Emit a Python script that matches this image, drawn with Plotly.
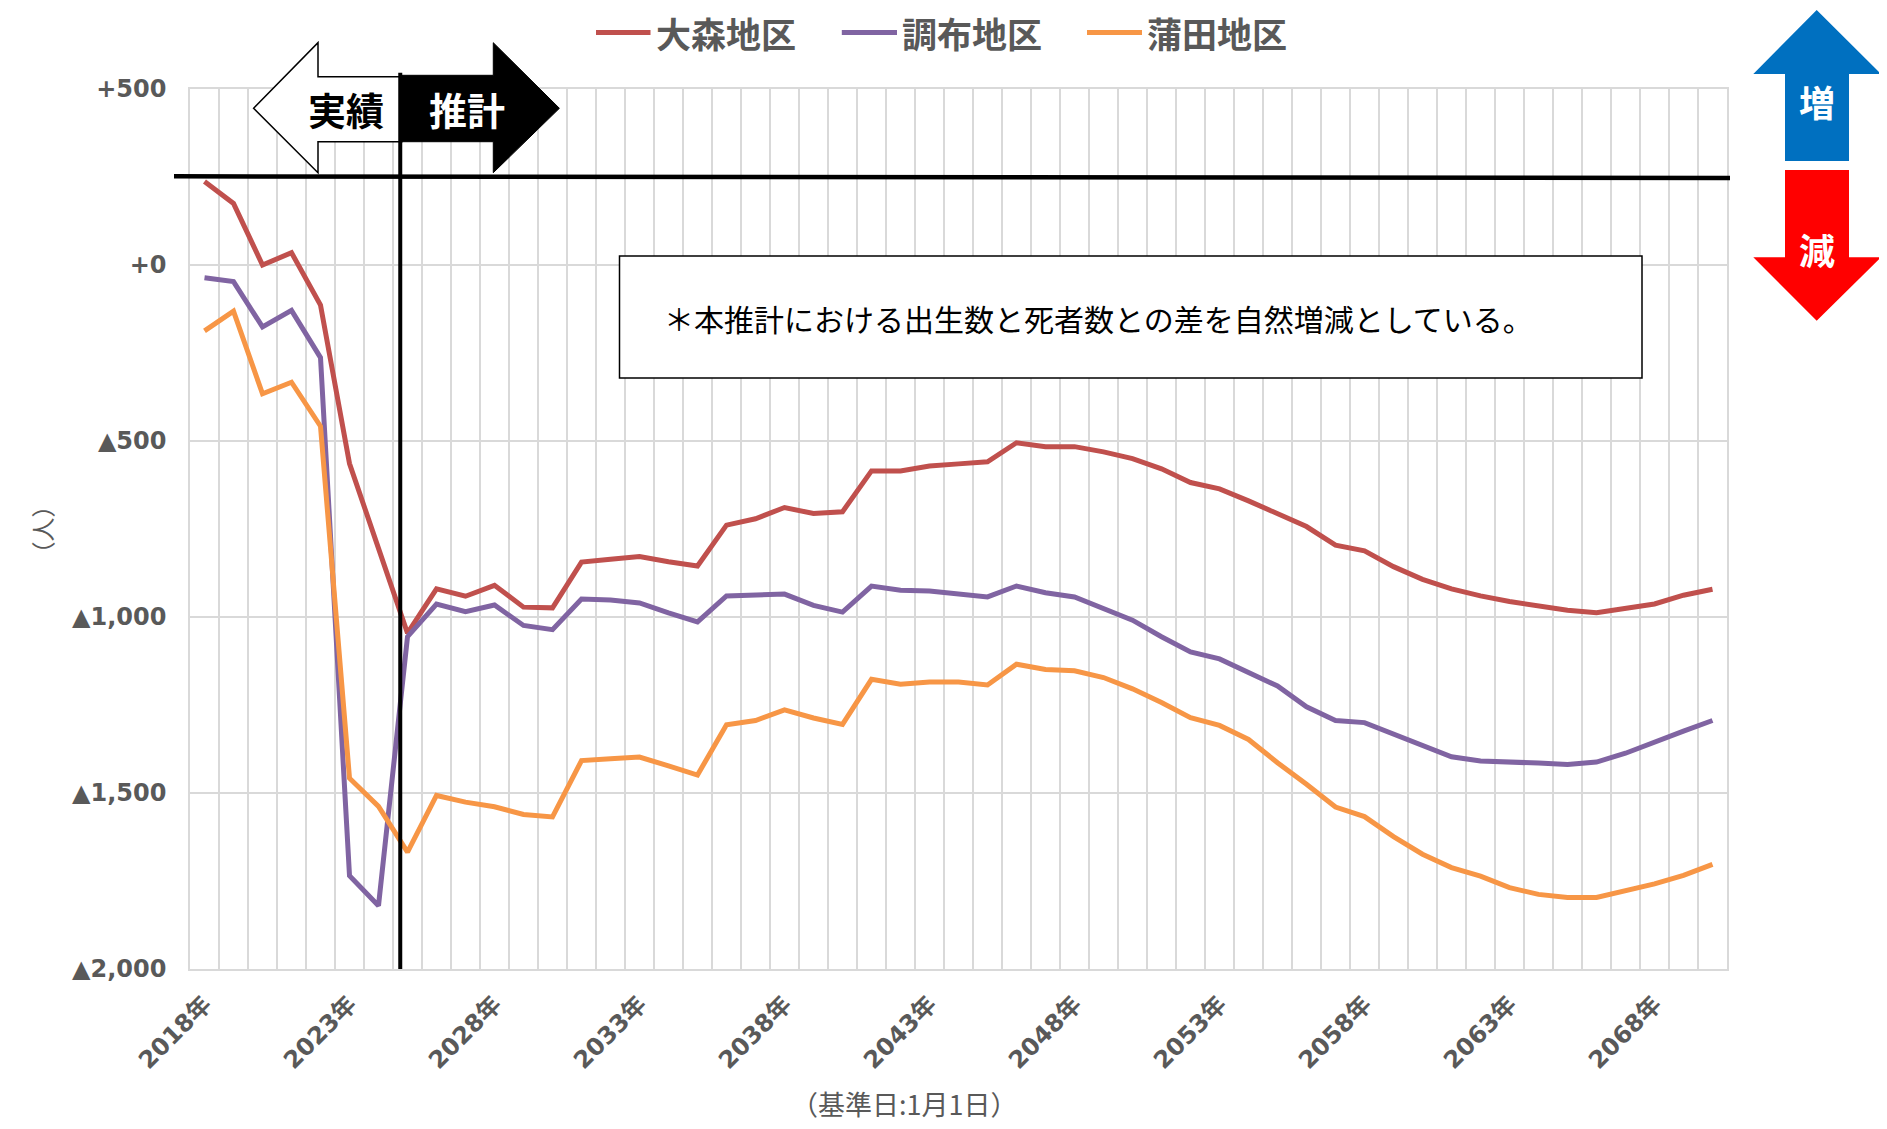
import plotly.graph_objects as go

# natural increase/decrease by district, 2018-2070 (persons)
years = list(range(2018, 2071))

omori = [237, 175, 0, 35, -114, -564, -805, -1046, -920, -941,
         -910, -972, -974, -844, -836, -828, -843, -855, -739, -721,
         -689, -706, -701, -585, -585, -571, -565, -559, -505, -516,
         -516, -531, -550, -579, -618, -636, -670, -705, -743, -796,
         -812, -857, -893, -920, -940, -956, -969, -981, -988, -976,
         -963, -938, -921]

chofu = [-36, -47, -176, -129, -263, -1735, -1820, -1056, -963, -985,
         -966, -1024, -1036, -949, -952, -960, -988, -1014, -940, -936,
         -935, -967, -986, -912, -924, -926, -933, -943, -912, -931,
         -943, -975, -1009, -1056, -1099, -1119, -1156, -1196, -1255, -1294,
         -1300, -1333, -1367, -1397, -1409, -1411, -1415, -1419, -1412, -1387,
         -1354, -1324, -1294]

kamata = [-187, -131, -366, -333, -458, -1458, -1538, -1668, -1507, -1526,
          -1539, -1561, -1568, -1408, -1403, -1398, -1423, -1449, -1306, -1294,
          -1264, -1287, -1305, -1177, -1191, -1185, -1185, -1193, -1134, -1149,
          -1153, -1172, -1204, -1243, -1286, -1308, -1348, -1414, -1475, -1540,
          -1567, -1624, -1674, -1712, -1736, -1769, -1788, -1797, -1797, -1777,
          -1758, -1734, -1703]

series_names = ["大森地区", "調布地区", "蒲田地区"]
series_colors = ["#C0504D", "#8064A2", "#F79646"]

x_tickvals = [2018, 2023, 2028, 2033, 2038, 2043, 2048, 2053, 2058, 2063, 2068]
x_ticktext = ["2018年", "2023年", "2028年", "2033年", "2038年", "2043年",
              "2048年", "2053年", "2058年", "2063年", "2068年"]
y_tickvals = [500, 0, -500, -1000, -1500, -2000]
y_ticktext = ["+500", "+0", "▲500", "▲1,000", "▲1,500", "▲2,000"]

boundary_year = 2024.75   # 実績 / 推計 divider
note_text = "＊本推計における出生数と死者数との差を自然増減としている。"

# page geometry (pixels); the html body adds an 8px margin
W, H = 1887, 1129
OFF = 8
L, T = 190, 89            # plot area corner on the page
PW, PH = 1537, 880
BOTTOM = T + PH


def px(x):
    return (x - L) / PW


def py(y):
    return (BOTTOM - y) / PH


def path(points):
    return "M " + " L ".join(f"{px(a):.5f},{py(b):.5f}" for a, b in points) + " Z"


GRID = "#D9D9D9"
TXT = "#595959"
CJK = "Noto Sans CJK JP"
NUM = "DejaVu Sans, Noto Sans CJK JP"

fig = go.Figure()
for name, vals, col in zip(series_names, [omori, chofu, kamata], series_colors):
    fig.add_trace(go.Scatter(x=years, y=vals, name=name, mode="lines",
                             line=dict(color=col, width=5), showlegend=False))

shapes = []
# white arrow 実績
shapes.append(dict(type="path", xref="paper", yref="paper",
                   path=path([(253.6, 108.3), (318, 42.7), (318, 76.7), (401.8, 76.7),
                              (401.8, 141.7), (318, 141.7), (318, 172.7)]),
                   fillcolor="white", line=dict(color="black", width=1.5)))
# black arrow 推計
shapes.append(dict(type="path", xref="paper", yref="paper",
                   path=path([(401.8, 75.3), (493.3, 75.3), (493.3, 42.7), (559.4, 108.3),
                              (493.3, 172.7), (493.3, 141.7), (401.8, 141.7)]),
                   fillcolor="black", line=dict(color="black", width=1)))
# thick horizontal line and divider
shapes.append(dict(type="line", xref="paper", yref="y", x0=px(174), x1=px(1730),
                   y0=252, y1=247, line=dict(color="black", width=4.5)))
shapes.append(dict(type="line", xref="x", yref="paper", x0=boundary_year, x1=boundary_year,
                   y0=0, y1=py(72.7), line=dict(color="black", width=4)))
# note box
shapes.append(dict(type="rect", xref="paper", yref="paper", x0=px(619.5), x1=px(1642),
                   y0=py(378), y1=py(256), fillcolor="white",
                   line=dict(color="black", width=1.5)))
# 増 / 減 arrows
shapes.append(dict(type="path", xref="paper", yref="paper",
                   path=path([(1816.7, 10), (1881, 74), (1849, 74), (1849, 161),
                              (1785, 161), (1785, 74), (1753.3, 74)]),
                   fillcolor="#0070C0", line=dict(width=0)))
shapes.append(dict(type="path", xref="paper", yref="paper",
                   path=path([(1785, 170), (1849, 170), (1849, 257.3), (1881, 257.3),
                              (1816.7, 320.7), (1753.3, 257.3), (1785, 257.3)]),
                   fillcolor="#FF0000", line=dict(width=0)))

annotations = []
# legend drawn by hand
legend_x = [(596, 650.5), (841.8, 897), (1087, 1142)]
for (a, b), name, col in zip(legend_x, series_names, series_colors):
    shapes.append(dict(type="line", xref="paper", yref="paper", x0=px(a), x1=px(b),
                       y0=py(32.5), y1=py(32.5), line=dict(color=col, width=5)))
    annotations.append(dict(text=name, xref="paper", yref="paper", x=px(b + 3), y=py(33),
                            xanchor="left", yanchor="middle", showarrow=False,
                            font=dict(family=CJK, size=35, color=TXT, weight=700)))

annotations += [
    dict(text="実績", x=px(345.5), y=py(109), font=dict(family=CJK, size=38, color="black", weight=700)),
    dict(text="推計", x=px(466.5), y=py(109), font=dict(family=CJK, size=38, color="white", weight=700)),
    dict(text="増", x=px(1817), y=py(101), font=dict(family=CJK, size=36, color="white", weight=700)),
    dict(text="減", x=px(1817), y=py(249), font=dict(family=CJK, size=36, color="white", weight=700)),
    dict(text=note_text, x=px(662), y=py(318), xanchor="left",
         font=dict(family=CJK, size=30, color="black")),
    dict(text="（人）", x=px(40.5), y=py(530), textangle=-90,
         font=dict(family=CJK, size=24, color=TXT)),
    dict(text="（基準日:1月1日）", x=px(904), y=py(1103),
         font=dict(family=CJK, size=27, color=TXT)),
]
for a in annotations:
    a.setdefault("xref", "paper")
    a.setdefault("yref", "paper")
    a.setdefault("showarrow", False)
    a.setdefault("xanchor", "center")
    a.setdefault("yanchor", "middle")

fig.update_layout(
    width=W, height=H,
    margin=dict(l=L - OFF, r=W - (L - OFF) - PW, t=T - OFF, b=H - (T - OFF) - PH,
                autoexpand=False),
    paper_bgcolor="white", plot_bgcolor="white",
    shapes=shapes, annotations=annotations,
    xaxis=dict(range=[2017.5, 2070.5], tickmode="array", tickvals=x_tickvals,
               ticktext=x_ticktext, tickangle=-45, ticks="", showgrid=False,
               ticklabelstandoff=10,
               minor=dict(tickmode="linear", tick0=2017.5, dtick=1, showgrid=True,
                          gridcolor=GRID, gridwidth=1.5, ticks=""),
               showline=True, linecolor=GRID, linewidth=1.5, mirror=True, zeroline=False,
               tickfont=dict(family=NUM, size=24, color=TXT, weight=700)),
    yaxis=dict(range=[-2000, 500], tickmode="array", tickvals=y_tickvals,
               ticktext=y_ticktext, ticks="", showgrid=True, gridcolor=GRID,
               gridwidth=1.5, zeroline=False, showline=True, linecolor=GRID,
               linewidth=1.5, mirror=True, ticklabelstandoff=17,
               tickfont=dict(family=NUM, size=24, color=TXT, weight=700)),
)

fig.write_html("out.html")
